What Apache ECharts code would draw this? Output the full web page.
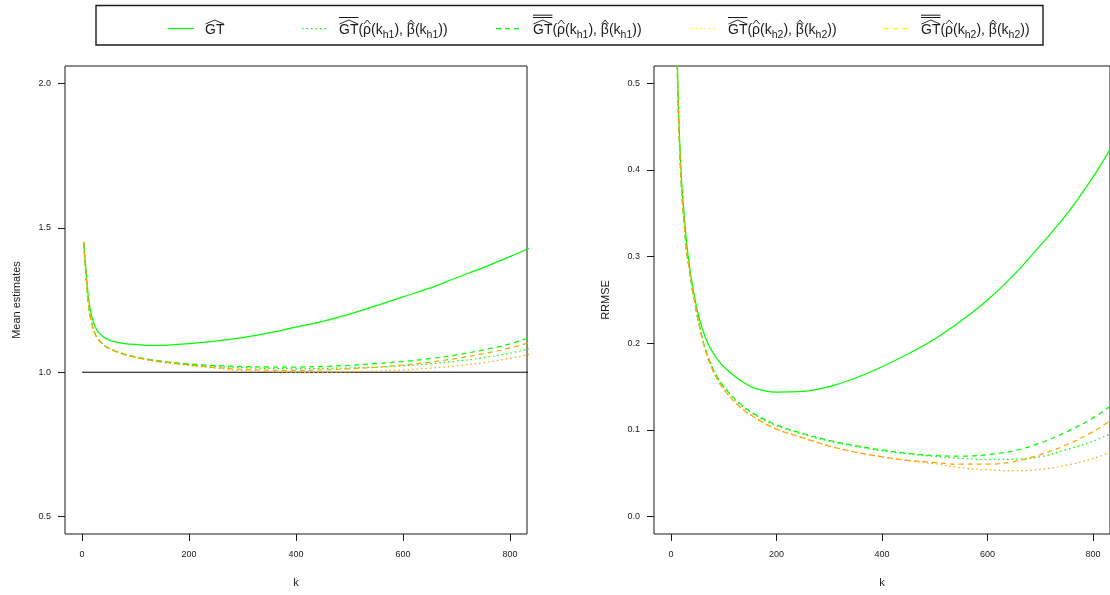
<!DOCTYPE html>
<html><head><meta charset="utf-8">
<script src="https://cdn.jsdelivr.net/npm/echarts@6/dist/echarts.min.js"></script>
<style>html,body{margin:0;padding:0;background:#fff}#c{width:1110px;height:595px}</style>
</head><body><div id="c"></div>
<script>
// ---------- data ----------
const xTicks = [0, 200, 400, 600, 800];
const yTicksMean = [0.5, 1.0, 1.5, 2.0];
const yTicksRRMSE = [0.0, 0.1, 0.2, 0.3, 0.4, 0.5];

const kMean = [3,5,8,10,13,16,20,25,30,40,50,60,80,100,130,160,200,250,300,350,400,450,500,550,600,650,700,750,800,840];
const meanGT      = [1.45,1.40,1.34,1.29,1.245,1.21,1.18,1.155,1.14,1.122,1.112,1.106,1.099,1.096,1.093,1.094,1.099,1.108,1.120,1.136,1.156,1.176,1.201,1.230,1.261,1.291,1.327,1.362,1.400,1.432];
const meanGTbar1h1 = [1.45,1.39,1.32,1.27,1.22,1.185,1.155,1.13,1.115,1.095,1.083,1.075,1.062,1.053,1.043,1.035,1.027,1.020,1.016,1.013,1.012,1.013,1.015,1.018,1.022,1.029,1.038,1.050,1.066,1.083];
const meanGTbar2h1 = [1.45,1.39,1.32,1.27,1.22,1.185,1.155,1.13,1.115,1.095,1.083,1.075,1.062,1.053,1.043,1.036,1.029,1.023,1.020,1.018,1.018,1.020,1.024,1.030,1.037,1.047,1.060,1.077,1.098,1.122];
const meanGTbar1h2 = [1.45,1.39,1.32,1.27,1.22,1.185,1.155,1.13,1.115,1.095,1.083,1.074,1.061,1.051,1.040,1.032,1.023,1.014,1.006,1.002,0.999,0.999,1.001,1.004,1.008,1.014,1.022,1.033,1.048,1.063];
const meanGTbar2h2 = [1.45,1.39,1.32,1.27,1.22,1.185,1.155,1.13,1.115,1.095,1.083,1.074,1.061,1.052,1.041,1.033,1.025,1.016,1.010,1.007,1.006,1.008,1.012,1.017,1.025,1.035,1.048,1.064,1.084,1.104];
const refK = [0, 900];
const refV = [1, 1];

const kRR = [5,8,10,12,15,20,25,30,35,40,50,60,70,80,90,100,130,160,200,250,300,350,400,450,500,550,600,650,700,750,800,840];
const rrGT      = [1.0,0.72,0.60,0.53,0.46,0.39,0.35,0.315,0.29,0.27,0.238,0.216,0.200,0.189,0.180,0.173,0.158,0.148,0.1438,0.1445,0.150,0.160,0.173,0.188,0.205,0.226,0.250,0.279,0.313,0.349,0.392,0.432];
const rrGTbar1h1 = [1.0,0.71,0.59,0.52,0.45,0.38,0.34,0.305,0.285,0.265,0.232,0.205,0.185,0.170,0.159,0.150,0.130,0.117,0.105,0.095,0.087,0.081,0.076,0.0725,0.0695,0.0672,0.066,0.0662,0.069,0.0775,0.087,0.098];
const rrGTbar2h1 = [1.0,0.71,0.59,0.52,0.45,0.38,0.34,0.305,0.285,0.265,0.232,0.205,0.185,0.170,0.159,0.150,0.131,0.118,0.106,0.096,0.088,0.082,0.077,0.073,0.0705,0.0698,0.0715,0.076,0.085,0.098,0.114,0.131];
const rrGTbar1h2 = [1.0,0.71,0.59,0.52,0.45,0.38,0.34,0.305,0.285,0.265,0.232,0.204,0.183,0.168,0.156,0.147,0.127,0.114,0.101,0.091,0.0815,0.0745,0.069,0.0645,0.061,0.0565,0.054,0.053,0.0545,0.0595,0.067,0.076];
const rrGTbar2h2 = [1.0,0.71,0.59,0.52,0.45,0.38,0.34,0.305,0.285,0.265,0.232,0.204,0.183,0.168,0.156,0.147,0.127,0.114,0.101,0.091,0.0815,0.0745,0.069,0.065,0.0625,0.0605,0.0605,0.0635,0.0715,0.083,0.098,0.114];

// ---------- styles ----------
const FONT = '"Liberation Sans", Arial, Helvetica, sans-serif';
const GREEN = '#00FF00', ORANGE = '#FFA500', YELLOW = '#FFFF00', INK = '#1a1a1a';
const DOT = [1.5, 3], DASH = [5, 4];
const LW = 1.25;

function zip(ks, vs) { return ks.map((k, i) => [k, vs[i]]); }

function mkX(i) {
  return {
    type: 'value', gridIndex: i, min: -32, max: 832,
    name: 'k', nameLocation: 'middle', nameGap: 43,
    nameTextStyle: { fontSize: 11, color: INK, fontFamily: FONT },
    axisLine: { show: false, onZero: false },
    axisTick: { show: true, inside: false, length: 7, lineStyle: { color: INK, width: 1 }, customValues: xTicks },
    axisLabel: { customValues: xTicks, fontSize: 9, color: INK, fontFamily: FONT, margin: 16 },
    splitLine: { show: false }
  };
}
function mkY(i, min, max, ticks, name) {
  return {
    type: 'value', gridIndex: i, min: min, max: max,
    name: name, nameLocation: 'middle', nameGap: 43,
    nameTextStyle: { fontSize: 11, color: INK, fontFamily: FONT },
    axisLine: { show: false, onZero: false },
    axisTick: { show: true, inside: false, length: 7, lineStyle: { color: INK, width: 1 }, customValues: ticks },
    axisLabel: { customValues: ticks, fontSize: 9, color: INK, fontFamily: FONT, margin: 14,
                 formatter: v => Number(v).toFixed(1) },
    splitLine: { show: false }
  };
}
function line(name, gi, ks, vs, color, type) {
  return {
    name: name, type: 'line', xAxisIndex: gi, yAxisIndex: gi,
    data: zip(ks, vs), symbol: 'none', showSymbol: false, smooth: 0.35, clip: true,
    lineStyle: { color: color, width: LW, type: type }, silent: true, z: 3
  };
}

// ---------- legend (graphic) ----------
const ctx = document.createElement('canvas').getContext('2d');
function tw(t, s) { ctx.font = s + 'px ' + FONT; return ctx.measureText(t).width; }

const legendItems = [
  { label: 'GT', color: GREEN, dash: null, bars: 0, h: null, textX: 205 },
  { label: 'GT(ρ(kh1), β(kh1))', color: GREEN, dash: DOT, bars: 1, h: 'h1', textX: 339 },
  { label: 'GT(ρ(kh1), β(kh1))', color: GREEN, dash: DASH, bars: 2, h: 'h1', textX: 533 },
  { label: 'GT(ρ(kh2), β(kh2))', color: YELLOW, dash: DOT, bars: 1, h: 'h2', textX: 728 },
  { label: 'GT(ρ(kh2), β(kh2))', color: YELLOW, dash: DASH, bars: 2, h: 'h2', textX: 921 }
];

const gEls = [];
gEls.push({ type: 'rect', shape: { x: 96, y: 5.5, width: 947, height: 39.5 },
            style: { fill: 'none', stroke: INK, lineWidth: 1.4 }, silent: true });
const LY = 28.5, MAIN = 14, SUB = 10.5, CY = 30.6, SUBCY = 35.4;
const HAT_B = 24.0, HAT_T = 20.0;
function hat(x0, x1) {
  gEls.push({ type: 'polyline', shape: { points: [[x0, HAT_B], [(x0 + x1) / 2, HAT_T], [x1, HAT_B]] },
              style: { stroke: INK, lineWidth: 0.9, fill: 'none' }, silent: true });
}
function bar(x0, x1, y) {
  gEls.push({ type: 'line', shape: { x1: x0, y1: y, x2: x1, y2: y },
              style: { stroke: INK, lineWidth: 1 }, silent: true });
}
function txt(t, x, y, s) {
  gEls.push({ type: 'text', x: x, y: y, style: { text: t, font: s + 'px ' + FONT, fill: INK,
              textAlign: 'left', textVerticalAlign: 'middle', verticalAlign: 'middle' }, silent: true });
}
legendItems.forEach(it => {
  const lx0 = it.textX - 37, lx1 = it.textX - 11;
  gEls.push({ type: 'line', shape: { x1: lx0, y1: LY, x2: lx1, y2: LY },
              style: { stroke: it.color, lineWidth: LW, lineDash: it.dash || null }, silent: true });
  let x = it.textX;
  const pieces = [{ t: 'GT', hat: true, bars: it.bars }];
  if (it.h) {
    pieces.push({ t: '(' }, { t: 'ρ', hat: true }, { t: '(k' }, { t: it.h, sub: true }, { t: '), ' },
                { t: 'β', hat: true }, { t: '(k' }, { t: it.h, sub: true }, { t: '))' });
  }
  pieces.forEach(p => {
    const s = p.sub ? SUB : MAIN;
    const w = tw(p.t, s);
    txt(p.t, x, p.sub ? SUBCY : CY, s);
    if (p.hat) {
      if (p.t === 'GT') hat(x + 0.5, x + w - 0.5); else hat(x + 0.8, x + w - 0.5);
    }
    if (p.bars === 1) bar(x, x + w, 17.5);
    if (p.bars === 2) { bar(x, x + w, 15.2); bar(x, x + w, 17.5); }
    x += w;
  });
});

// ---------- chart ----------
const chart = echarts.init(document.getElementById('c'), null, { renderer: 'canvas' });
chart.setOption({
  animation: false,
  backgroundColor: '#fff',
  grid: [
    { left: 65, top: 66, width: 462, height: 468, show: true, borderColor: INK, borderWidth: 1, backgroundColor: 'transparent' },
    { left: 654, top: 66, width: 463, height: 468, show: true, borderColor: INK, borderWidth: 1, backgroundColor: 'transparent' }
  ],
  xAxis: [mkX(0), mkX(1)],
  yAxis: [mkY(0, 0.44, 2.06, yTicksMean, 'Mean estimates'), mkY(1, -0.02, 0.52, yTicksRRMSE, 'RRMSE')],
  series: [
    { name: 'ref', type: 'line', xAxisIndex: 0, yAxisIndex: 0, data: zip(refK, refV), symbol: 'none',
      clip: true, lineStyle: { color: '#000', width: 1 }, silent: true, z: 2 },
    line('GT', 0, kMean, meanGT, GREEN, 'solid'),
    line('GTbar1 h1', 0, kMean, meanGTbar1h1, GREEN, DOT),
    line('GTbar2 h1', 0, kMean, meanGTbar2h1, GREEN, DASH),
    line('GTbar1 h2', 0, kMean, meanGTbar1h2, ORANGE, DOT),
    line('GTbar2 h2', 0, kMean, meanGTbar2h2, ORANGE, DASH),
    line('GT ', 1, kRR, rrGT, GREEN, 'solid'),
    line('GTbar1 h1 ', 1, kRR, rrGTbar1h1, GREEN, DOT),
    line('GTbar2 h1 ', 1, kRR, rrGTbar2h1, GREEN, DASH),
    line('GTbar1 h2 ', 1, kRR, rrGTbar1h2, ORANGE, DOT),
    line('GTbar2 h2 ', 1, kRR, rrGTbar2h2, ORANGE, DASH)
  ],
  graphic: { elements: gEls }
});
</script>
</body></html>
